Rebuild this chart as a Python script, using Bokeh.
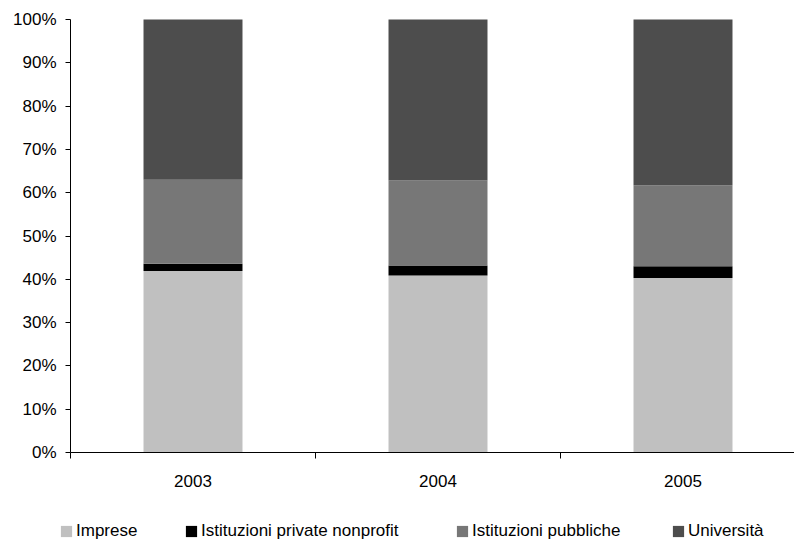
from bokeh.plotting import figure
from bokeh.models import Range1d, FixedTicker, Legend, LegendItem, ColumnDataSource, CustomJSTickFormatter
from bokeh.embed import file_html
from bokeh.resources import INLINE

years = ["2003", "2004", "2005"]
imprese = [41.9, 40.9, 40.3]
nonprofit = [1.7, 2.3, 2.7]
pubbliche = [19.4, 19.6, 18.7]
universita = [37.0, 37.2, 38.3]
series_names = ["Imprese", "Istituzioni private nonprofit", "Istituzioni pubbliche", "Università"]
colors = ["#C0C0C0", "#000000", "#777777", "#4D4D4D"]
y_ticks = [0, 10, 20, 30, 40, 50, 60, 70, 80, 90, 100]

xs = [i + 0.5 for i in range(len(years))]
src = ColumnDataSource(dict(x=xs, imprese=imprese, nonprofit=nonprofit,
                            pubbliche=pubbliche, universita=universita))

FONT = "Liberation Sans"
FS = "17px"
# frame covers whole picture; axes drawn at fixed locations
p = figure(width=794, height=542, output_backend="svg", toolbar_location=None,
           x_range=Range1d(-70 / 245, 724 / 245), y_range=Range1d(-90 / 4.33, 100 + 19 / 4.33),
           min_border_left=0, min_border_right=0, min_border_top=0, min_border_bottom=0)
p.outline_line_color = None
p.xgrid.visible = False
p.ygrid.visible = False

rs = p.vbar_stack(["imprese", "nonprofit", "pubbliche", "universita"], x="x", width=0.404,
                  source=src, color=colors, line_color=None)

# y axis
p.yaxis.fixed_location = 0
p.yaxis.bounds = (0, 100)
p.yaxis.ticker = FixedTicker(ticks=y_ticks)
p.yaxis.formatter = CustomJSTickFormatter(code="return tick + '%';")
p.yaxis.major_tick_in = 0
p.yaxis.major_tick_out = 5
p.yaxis.minor_tick_line_color = None
p.yaxis.major_label_text_font = FONT
p.yaxis.major_label_text_font_size = FS
p.yaxis.major_label_text_color = "#000000"
p.yaxis.major_label_standoff = 9
p.yaxis.axis_line_color = "#000000"
p.yaxis.major_tick_line_color = "#000000"

# x axis
p.xaxis.fixed_location = 0
p.xaxis.bounds = (0, 3)
p.xaxis.ticker = FixedTicker(ticks=xs, minor_ticks=[0, 1, 2, 3])
p.xaxis.major_label_overrides = {x: y for x, y in zip(xs, years)}
p.xaxis.major_tick_in = 0
p.xaxis.major_tick_out = 0
p.xaxis.minor_tick_in = 0
p.xaxis.minor_tick_out = 6
p.xaxis.minor_tick_line_color = "#000000"
p.xaxis.axis_line_color = "#000000"
p.xaxis.major_label_text_font = FONT
p.xaxis.major_label_text_font_size = FS
p.xaxis.major_label_text_color = "#000000"
p.xaxis.major_label_standoff = 16

offsets = [59, 184, 455, 671]
for r, name, off in zip(rs, series_names, offsets):
    leg = Legend(items=[LegendItem(label=name, renderers=[r])], location=(off, 1),
                 padding=0, margin=0, border_line_color=None, background_fill_alpha=0,
                 glyph_width=14, glyph_height=14, label_height=14, label_standoff=3,
                 label_text_font=FONT, label_text_font_size=FS, label_text_color="#000000")
    p.add_layout(leg, "center")

open("out.html", "w").write(file_html(p, INLINE))
